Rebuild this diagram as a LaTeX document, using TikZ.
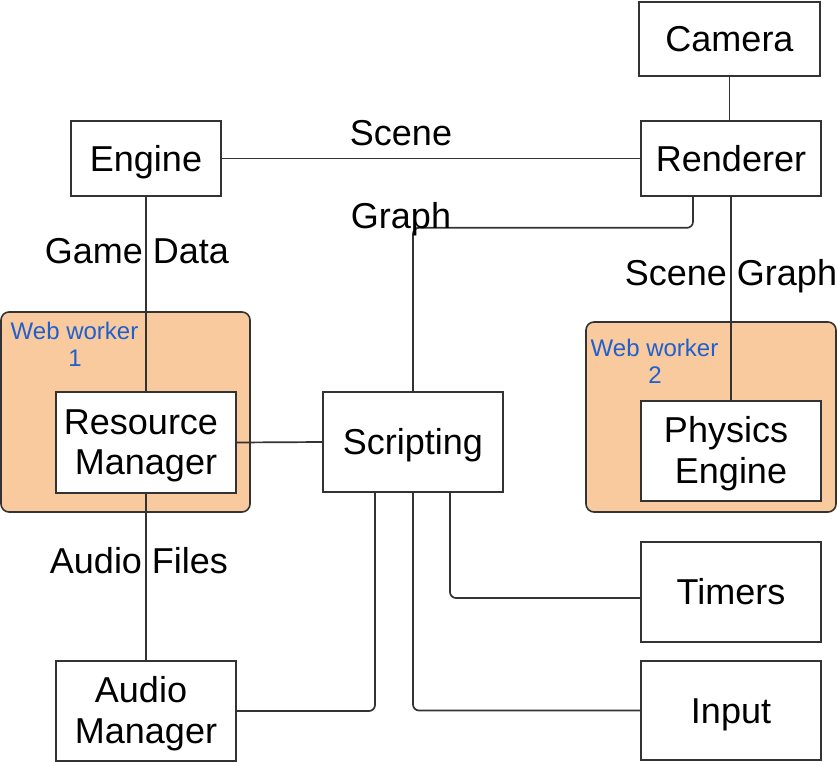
\documentclass[tikz,border=0pt]{standalone}
\usepackage{fontspec}
\setmainfont{Liberation Sans}
\definecolor{linec}{HTML}{333333}
\definecolor{wwfill}{HTML}{F8CA9D}
\definecolor{wwtext}{HTML}{1F5FD0}
\begin{document}
\begin{tikzpicture}[x=1pt,y=-1pt,
  bigfont/.style={font=\fontsize{36}{40.5}\selectfont},
  box/.style={draw=linec, line width=1.6pt, fill=white, inner sep=0pt,
    bigfont, text height=25.8pt, text depth=0pt},
  group/.style={draw=linec, line width=1.6pt, fill=wwfill, rounded corners=8pt, inner sep=0pt},
  conn/.style={draw=linec, line width=1.7pt, rounded corners=6pt},
  lbl/.style={bigfont, anchor=base, inner sep=0pt},
  wwlbl/.style={font=\fontsize{24}{27}\selectfont, text=wwtext, anchor=base, inner sep=0pt}
]
\useasboundingbox (0,0) rectangle (837,762);

% web worker groups
\node[group, minimum width=249pt, minimum height=200pt] (ww1) at (125.5,412) {};
\node[group, minimum width=250pt, minimum height=190pt] (ww2) at (711,417) {};
\node[wwlbl] (ww1a) at (74.5,339) {Web worker};
\node[wwlbl] (ww1b) at (75,366) {1};
\node[wwlbl] (ww2a) at (654.5,356) {Web worker};
\node[wwlbl] (ww2b) at (655,383) {2};

% boxes
\node[box, minimum width=181pt, minimum height=74pt] (cam) at (729.5,39) {Camera};
\node[box, minimum width=150pt, minimum height=75pt] (eng) at (146,158.5) {Engine};
\node[box, minimum width=180pt, minimum height=75pt] (ren) at (731,158.5) {Renderer};
\node[box, minimum width=180pt, minimum height=101pt] (rm) at (146,442.5) {};
\node[box, minimum width=180pt, minimum height=100pt] (scr) at (413,442) {Scripting};
\node[box, minimum width=180pt, minimum height=100pt] (phy) at (731,451) {};
\node[box, minimum width=180pt, minimum height=100pt] (tim) at (731,592) {Timers};
\node[box, minimum width=180pt, minimum height=99pt] (inp) at (731,710.5) {Input};
\node[box, minimum width=180pt, minimum height=100pt] (am) at (146,711) {};

% two-line box texts
\node[lbl] (rmt1) at (141,434) {Resource};
\node[lbl] (rmt2) at (146,474.5) {Manager};
\node[lbl] (phyt1) at (726,442.5) {Physics};
\node[lbl] (phyt2) at (731,483) {Engine};
\node[lbl] (amt1) at (141,702.5) {Audio};
\node[lbl] (amt2) at (146,743) {Manager};

% connectors
\draw[conn] (cam.south) -- (cam.south |- ren.north);
\draw[conn] (eng.east) -- (ren.west);
\draw[conn] ([xshift=-38pt]ren.south) -- ++(0,31) -| (scr.north);
\draw[conn] (eng.south) -- (rm.north);
\draw[conn] (ren.south) -- (phy.north);
\draw[conn] (rm.east) -- (scr.west);
\draw[conn] (rm.south) -- (am.north);
\draw[conn] ([xshift=37pt]scr.south) |- ([yshift=-6pt]tim.west);
\draw[conn] (scr.south) |- (inp.west);
\draw[conn] ([xshift=-38pt]scr.south) |- (am.east);

% connector labels
\node[lbl] (lscene) at (401,146) {Scene};
\node[lbl] (lgraph) at (401,228) {Graph};
\node[lbl] (lgame) at (137,263) {Game Data};
\node[lbl] (lsg) at (731,285) {Scene Graph};
\node[lbl] (laudio) at (139,573) {Audio Files};
\end{tikzpicture}
\end{document}
